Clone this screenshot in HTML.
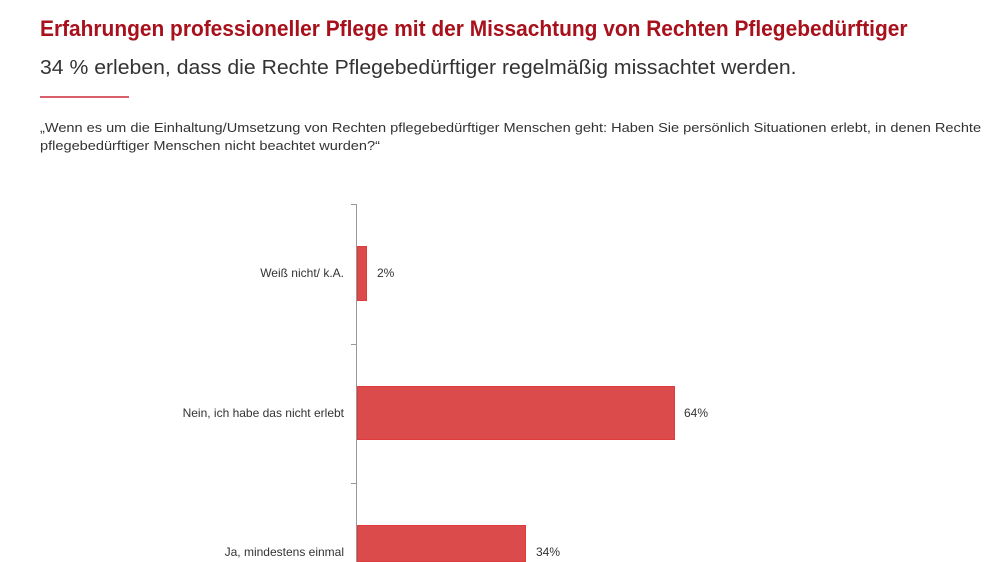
<!DOCTYPE html><html><head><meta charset="utf-8"><style>
html,body{margin:0;width:1000px;height:562px;background:#fff;overflow:hidden;position:relative;font-family:"Liberation Sans",sans-serif}
.a{position:absolute;white-space:nowrap}
.lab{position:absolute;right:656px;font-size:12px;color:#333;transform:translateY(-50%)}
.val{position:absolute;font-size:12px;color:#333;transform:translateY(-50%)}
.bar{position:absolute;left:357px;background:#dc4b4c;border:1px solid #e03a3c;box-sizing:border-box}
</style></head><body>
<div class="a" style="left:40px;top:16px;font-size:22px;font-weight:bold;color:#a8101c;transform:scaleX(0.95);transform-origin:left">Erfahrungen professioneller Pflege mit der Missachtung von Rechten Pflegebedürftiger</div>
<div class="a" style="left:40px;top:57px;font-size:20px;color:#333;transform:scaleX(1.06);transform-origin:left">34 % erleben, dass die Rechte Pflegebedürftiger regelmäßig missachtet werden.</div>
<div class="a" style="left:40px;top:96px;width:89px;height:2px;background:#d9606a"></div>
<div class="a" style="left:40px;top:119px;font-size:13px;color:#333;line-height:18px;transform:scaleX(1.12);transform-origin:left">„Wenn es um die Einhaltung/Umsetzung von Rechten pflegebedürftiger Menschen geht: Haben Sie persönlich Situationen erlebt, in denen Rechte<br>pflegebedürftiger Menschen nicht beachtet wurden?“</div>
<div class="a" style="left:356px;top:204px;width:1px;height:358px;background:#999"></div>
<div class="a" style="left:351px;top:204px;width:5px;height:1px;background:#999"></div>
<div class="a" style="left:351px;top:344px;width:5px;height:1px;background:#999"></div>
<div class="a" style="left:351px;top:483px;width:5px;height:1px;background:#999"></div>
<div class="bar" style="top:246px;width:10px;height:55px"></div>
<div class="bar" style="top:386px;width:318px;height:54px"></div>
<div class="bar" style="top:525px;width:169px;height:37px"></div>
<div class="lab" style="top:273px">Weiß nicht/ k.A.</div>
<div class="lab" style="top:413px">Nein, ich habe das nicht erlebt</div>
<div class="lab" style="top:552px">Ja, mindestens einmal</div>
<div class="val" style="left:377px;top:273px">2%</div>
<div class="val" style="left:684px;top:413px">64%</div>
<div class="val" style="left:536px;top:552px">34%</div>
</body></html>
